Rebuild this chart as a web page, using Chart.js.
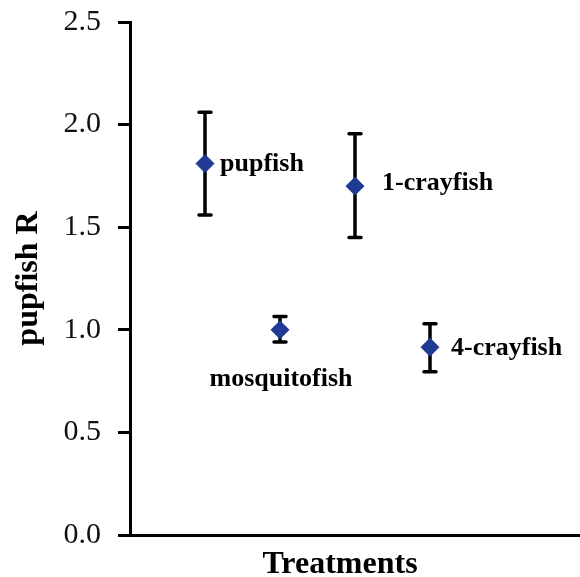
<!DOCTYPE html>
<html>
<head>
<meta charset="utf-8">
<script src="https://cdn.jsdelivr.net/npm/chart.js@4/dist/chart.umd.min.js"></script>
<style>
  html, body { margin: 0; padding: 0; background: #fff; }
  #wrap { width: 580px; height: 577px; position: relative; }
</style>
</head>
<body>
<div id="wrap"><canvas id="chart-pupfish"></canvas></div>
<script>
// ── Data ─────────────────────────────────────────────────────────
const treatments = ['pupfish', 'mosquitofish', '1-crayfish', '4-crayfish'];
const treatX     = [1, 2, 3, 4];
const meanR      = [1.81, 1.00, 1.70, 0.915];
const errLow     = [1.56, 0.94, 1.45, 0.795];
const errHigh    = [2.06, 1.065, 1.955, 1.03];
const yTicks     = [0, 0.5, 1.0, 1.5, 2.0, 2.5];

const serif     = "'Liberation Serif', 'Times New Roman', serif";
const markColor = '#1F3A93';

// label placement around each point (px offsets, not data)
const labelPos = [
    { dx: 15, dy: 1,  align: 'left' },
    { dx: 1,  dy: 49, align: 'center' },
    { dx: 27, dy: -3, align: 'left' },
    { dx: 21, dy: 1,  align: 'left' },
];

// ── Error bars + labels plugin ──────────────────────────────────
const errorBars = {
    id: 'errorBars',
    beforeDatasetsDraw(chart) {
        const { ctx, scales: { x, y } } = chart;
        ctx.save();
        ctx.strokeStyle = '#000';
        ctx.lineWidth = 3.5;
        ctx.lineCap = 'round';
        treatX.forEach((tx, i) => {
            const px = x.getPixelForValue(tx);
            const lo = y.getPixelForValue(errLow[i]);
            const hi = y.getPixelForValue(errHigh[i]);
            ctx.beginPath();
            ctx.moveTo(px, lo); ctx.lineTo(px, hi);
            ctx.moveTo(px - 6, lo); ctx.lineTo(px + 6, lo);
            ctx.moveTo(px - 6, hi); ctx.lineTo(px + 6, hi);
            ctx.stroke();
        });
        ctx.restore();
    },
    afterDatasetsDraw(chart) {
        const { ctx, scales: { x, y } } = chart;
        ctx.save();
        ctx.fillStyle = '#000';
        ctx.font = 'bold 26px ' + serif;
        ctx.textBaseline = 'middle';
        treatX.forEach((tx, i) => {
            const p = labelPos[i];
            ctx.textAlign = p.align;
            ctx.fillText(treatments[i], x.getPixelForValue(tx) + p.dx, y.getPixelForValue(meanR[i]) + p.dy);
        });
        // x axis title
        ctx.font = 'bold 32px ' + serif;
        ctx.textAlign = 'center';
        ctx.textBaseline = 'alphabetic';
        ctx.fillText('Treatments', 340, 573);
        ctx.restore();
    }
};

new Chart(document.getElementById('chart-pupfish'), {
    type: 'scatter',
    data: {
        datasets: [{
            label: 'pupfish R',
            data: treatX.map((tx, i) => ({ x: tx, y: meanR[i] })),
            pointStyle: 'rectRot',
            pointRadius: 9,
            pointHoverRadius: 9,
            backgroundColor: markColor,
            borderColor: markColor,
            borderWidth: 1,
        }]
    },
    options: {
        responsive: true,
        maintainAspectRatio: false,
        animation: false,
        layout: { autoPadding: false, padding: { top: 22, right: 0, bottom: 0, left: 0 } },
        plugins: { legend: { display: false }, tooltip: { enabled: false } },
        scales: {
            x: {
                type: 'linear', min: 0, max: 6,
                ticks: { display: false },
                grid: { display: false, drawTicks: false },
                border: { display: true, color: '#000', width: 3 },
                afterFit(scale) { scale.height = 42; }
            },
            y: {
                min: 0, max: 2.5,
                afterBuildTicks(scale) { scale.ticks = yTicks.map(v => ({ value: v })); },
                ticks: {
                    callback: v => v.toFixed(1),
                    font: { family: serif, size: 30 },
                    color: '#111',
                    padding: 17,
                },
                grid: { drawOnChartArea: false, drawTicks: true, tickLength: 12, tickWidth: 3, tickColor: '#000' },
                border: { display: true, color: '#000', width: 3 },
                title: {
                    display: true, text: 'pupfish R', color: '#000',
                    font: { family: serif, size: 32, weight: 'bold' },
                    padding: { top: 10, bottom: 0 }
                },
                afterFit(scale) { scale.width = 130; scale.paddingTop = 0; scale.paddingBottom = 0; }
            }
        }
    },
    plugins: [errorBars]
});
</script>
</body>
</html>
